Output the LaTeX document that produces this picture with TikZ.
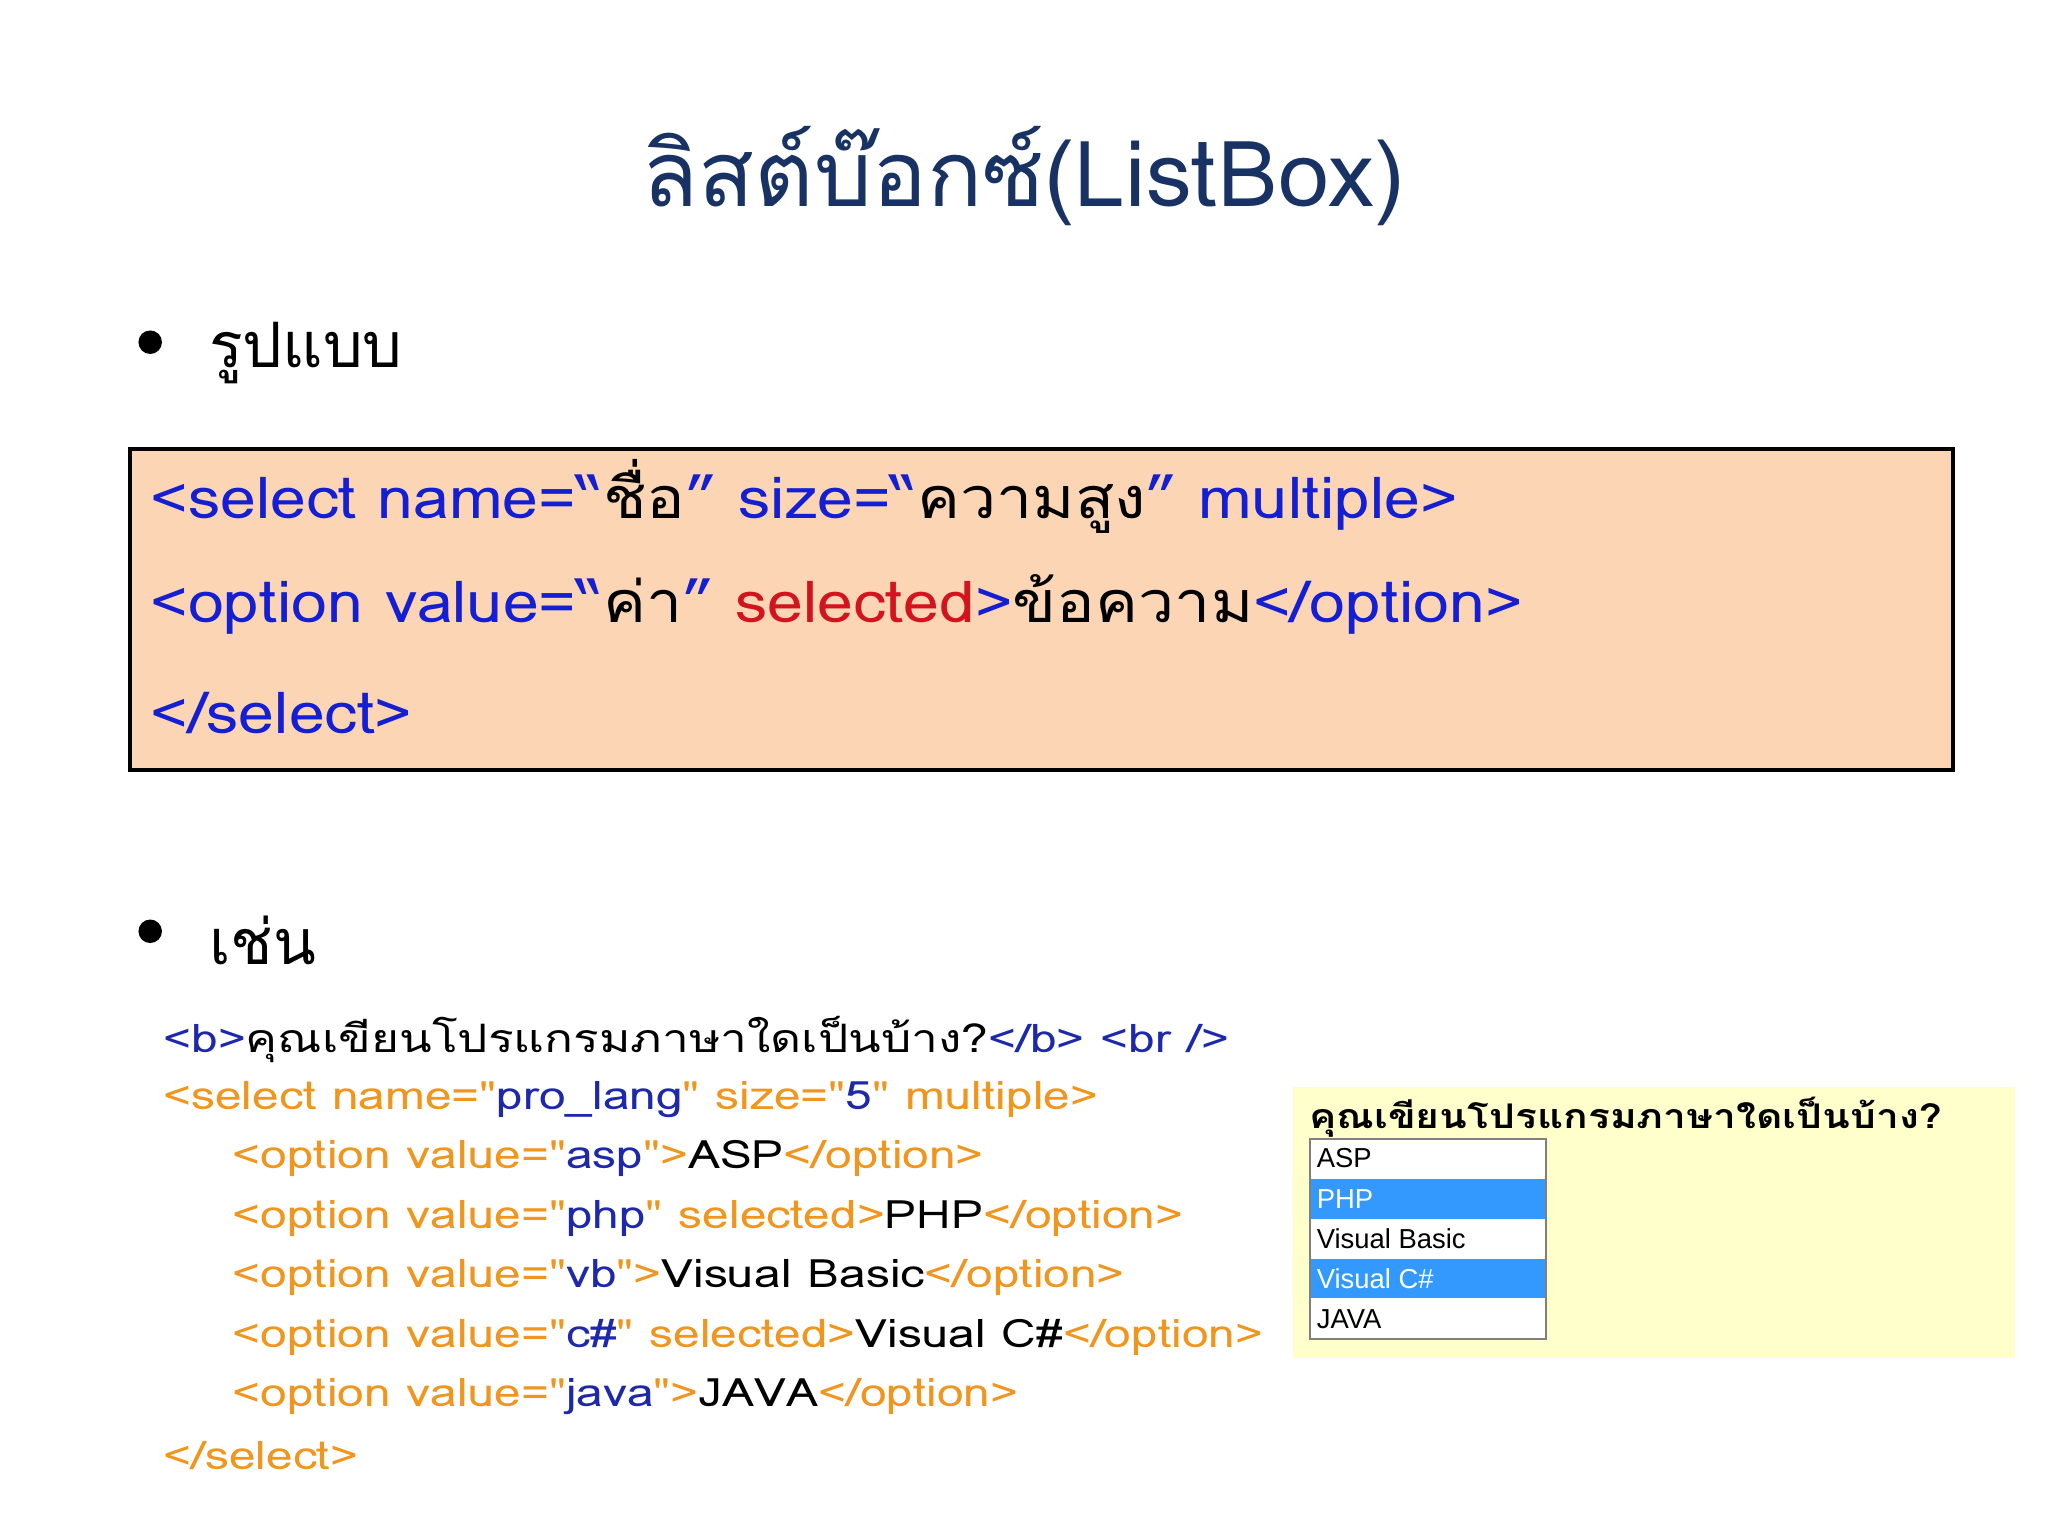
\documentclass[tikz,border=0pt]{standalone}
\usepackage{fontspec}
\setmainfont[Script=Thai]{Loma}
\newfontfamily\boxfont[Script=Thai,FakeStretch=1.12]{Loma}
\newfontfamily\exfont[Script=Thai,FakeStretch=1.22]{Loma}
\newfontfamily\rtfont[Script=Thai,FakeStretch=1.2]{Loma}
\newfontfamily\lsans{Liberation Sans}
\definecolor{navy}{RGB}{24,50,100}
\definecolor{codeblue}{RGB}{20,30,210}
\definecolor{codered}{RGB}{210,20,30}
\definecolor{peach}{RGB}{252,213,181}
\definecolor{tagor}{RGB}{240,150,30}
\definecolor{valbl}{RGB}{30,40,170}
\definecolor{paleyel}{RGB}{255,255,204}
\definecolor{selbl}{RGB}{51,153,255}
\begin{document}
\begin{tikzpicture}[x=1pt,y=-1pt,
  tl/.style={anchor=west,inner sep=0pt,font=\boxfont\fontsize{44}{50}\selectfont},
  ex/.style={anchor=west,inner sep=0pt,font=\exfont\fontsize{30}{34}\selectfont},
  item/.style={anchor=west,inner sep=0pt,font=\lsans\fontsize{21}{24}\selectfont}]
\useasboundingbox (0,0) rectangle (1568,1176);
\fill[white] (0,0) rectangle (1568,1176);
\node[inner sep=0pt,text=navy,font=\fontsize{70}{76}\selectfont] (title) at (784,135) {ลิสต์บ๊อกซ์(ListBox)};
\fill (115,262) circle (9) coordinate (b1);
\node[tl,font=\fontsize{48}{54}\selectfont] (h1) at (160,270) {รูปแบบ};
\node[draw=black,line width=3pt,fill=peach,minimum width=1396,minimum height=246,anchor=north west,inner sep=0pt] (box) at (98,342) {};
\node[tl] (l1) at (115,380) {\color{codeblue}<select name=“\color{black}ชื่อ\color{codeblue}” size=“\color{black}ความสูง\color{codeblue}” multiple>};
\node[tl] (l2) at (115,463) {\color{codeblue}<option value=“\color{black}ค่า\color{codeblue}” \color{codered}selected\color{codeblue}>\color{black}ข้อความ\color{codeblue}</option>};
\node[tl] (l3) at (115,546) {\color{codeblue}</select>};
\fill (115,713) circle (9) coordinate (b2);
\node[tl,font=\fontsize{48}{54}\selectfont] (h2) at (160,720) {เช่น};
% example code
\node[ex] (c1) at (125,796) {\color{valbl}<b>\color{black}คุณเขียนโปรแกรมภาษาใดเป็นบ้าง?\color{valbl}</b> <br />};
\node[ex] (c2) at (125,842) {\color{tagor}<select name="\color{valbl}pro\_lang\color{tagor}" size="\color{valbl}5\color{tagor}" multiple>};
\node[ex] (c3) at (178,887) {\color{tagor}<option value="\color{valbl}asp\color{tagor}">\color{black}ASP\color{tagor}</option>};
\node[ex] (c4) at (178,933) {\color{tagor}<option value="\color{valbl}php\color{tagor}" selected>\color{black}PHP\color{tagor}</option>};
\node[ex] (c5) at (178,978) {\color{tagor}<option value="\color{valbl}vb\color{tagor}">\color{black}Visual Basic\color{tagor}</option>};
\node[ex] (c6) at (178,1024) {\color{tagor}<option value="\color{valbl}c\#\color{tagor}" selected>\color{black}Visual C\#\color{tagor}</option>};
\node[ex] (c7) at (178,1069) {\color{tagor}<option value="\color{valbl}java\color{tagor}">\color{black}JAVA\color{tagor}</option>};
\node[ex] (c8) at (125,1114) {\color{tagor}</select>};
% rendered result
\fill[paleyel] (990,832) rectangle (1543,1040);
\node[anchor=west,inner sep=0pt,font=\rtfont\bfseries\fontsize{26}{29}\selectfont] (rt) at (1002,855) {คุณเขียนโปรแกรมภาษาใดเป็นบ้าง?};
\fill[white] (1003,872) rectangle (1184,1025);
\fill[selbl] (1004,903) rectangle (1183,933);
\fill[selbl] (1004,964) rectangle (1183,994);
\draw[gray,line width=1.5pt] (1003,872) rectangle (1184,1025);
\node[item] (i1) at (1008,887) {ASP};
\node[item,text=white] (i2) at (1008,918) {PHP};
\node[item] (i3) at (1008,948) {Visual Basic};
\node[item,text=white] (i4) at (1008,979) {Visual C\#};
\node[item] (i5) at (1008,1010) {JAVA};
\end{tikzpicture}
\end{document}
